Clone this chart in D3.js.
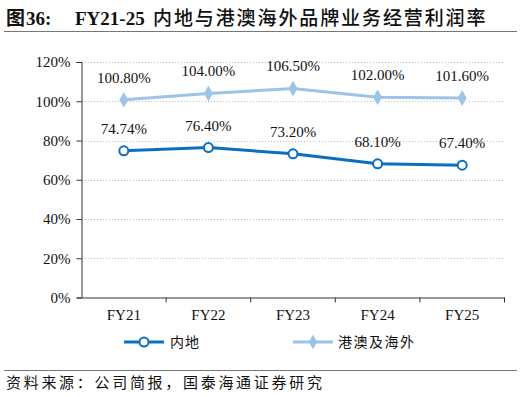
<!DOCTYPE html>
<html><head><meta charset="utf-8">
<script src="https://cdn.jsdelivr.net/npm/d3@7"></script>
<style>body{margin:0;background:#fff}svg{display:block}</style>
</head><body>
<script>
const categories = ["FY21","FY22","FY23","FY24","FY25"];
const mainland = [74.74, 76.40, 73.20, 68.10, 67.40];
const overseas = [100.80, 104.00, 106.50, 102.00, 101.60];
const mainlandLabels = ["74.74%","76.40%","73.20%","68.10%","67.40%"];
const overseasLabels = ["100.80%","104.00%","106.50%","102.00%","101.60%"];
const yTicks = [0,20,40,60,80,100,120];
const seriesNames = ["内地","港澳及海外"];

const W=521,H=397;
const svg=d3.select("body").append("svg").attr("width",W).attr("height",H);
const serif='"Times New Roman","Liberation Serif",serif';
const cjk='"Noto Sans CJK SC",sans-serif';

// title
const t=svg.append("text").attr("y",25).attr("fill","#111").attr("font-weight","bold");
t.append("tspan").attr("x",6).attr("font-family",cjk).attr("font-size",19).text("图");
t.append("tspan").attr("x",26).attr("font-family",serif).attr("font-size",19).text("36:");
t.append("tspan").attr("x",75).attr("font-family",serif).attr("font-size",19).text("FY21-25");
t.append("tspan").attr("x",153).attr("font-family",cjk).attr("font-size",19).attr("font-weight",500)
  .attr("letter-spacing",1.9).text("内地与港澳海外品牌业务经营利润率");
svg.append("line").attr("x1",4).attr("x2",517).attr("y1",31.5).attr("y2",31.5).attr("stroke","#777").attr("stroke-width",1.2);
svg.append("line").attr("x1",4).attr("x2",517).attr("y1",370.5).attr("y2",370.5).attr("stroke","#777").attr("stroke-width",1);
svg.append("text").attr("x",6).attr("y",388).attr("font-size",15).attr("letter-spacing",2.7).attr("fill","#111").attr("font-family",cjk)
  .text("资料来源：公司简报，国泰海通证券研究");

const x=d3.scaleBand().domain(categories).range([81.5,504.5]);
const y=d3.scaleLinear().domain([0,120]).range([297.5,62]);

// grid
svg.append("g").selectAll("line").data(yTicks.filter(d=>d>0)).join("line")
  .attr("x1",82).attr("x2",504.5).attr("y1",d=>Math.round(y(d))+0.5).attr("y2",d=>Math.round(y(d))+0.5)
  .attr("stroke","#bbb").attr("stroke-dasharray","1,2");

const ya=svg.append("g").attr("transform","translate(81.5,0)")
  .call(d3.axisLeft(y).tickValues(yTicks).tickFormat(d=>d+"%").tickSize(5).tickPadding(6));
ya.select(".domain").attr("stroke","#333");
ya.selectAll(".tick line").attr("stroke","#333");
ya.selectAll("text").attr("font-family",serif).attr("font-size",15).attr("fill","#111");

const xa=svg.append("g").attr("transform","translate(0,297.5)")
  .call(d3.axisBottom(x).tickSize(0).tickPadding(12));
xa.select(".domain").attr("stroke","#333");
xa.selectAll("text").attr("font-family",serif).attr("font-size",15).attr("fill","#111");
xa.append("g").selectAll("line").data(categories).join("line")
  .attr("x1",d=>x(d)+x.bandwidth()).attr("x2",d=>x(d)+x.bandwidth()).attr("y1",0).attr("y2",5).attr("stroke","#333");

const cx=d=>x(d)+x.bandwidth()/2;
const c1="#0A6FC0", c2="#9DC3E6";
const line=d3.line().x(d=>cx(d[0])).y(d=>y(d[1]));

svg.append("path").datum(categories.map((c,i)=>[c,overseas[i]])).attr("d",line)
  .attr("fill","none").attr("stroke",c2).attr("stroke-width",3);
svg.append("g").selectAll("path").data(categories).join("path")
  .attr("d",d3.symbol(d3.symbolDiamond,70)).attr("transform",(d,i)=>`translate(${cx(d)},${y(overseas[i])})`).attr("fill",c2);

svg.append("path").datum(categories.map((c,i)=>[c,mainland[i]])).attr("d",line)
  .attr("fill","none").attr("stroke",c1).attr("stroke-width",3);
svg.append("g").selectAll("circle").data(categories).join("circle")
  .attr("cx",d=>cx(d)).attr("cy",(d,i)=>y(mainland[i])).attr("r",4.5)
  .attr("fill","#fff").attr("stroke",c1).attr("stroke-width",2);

svg.append("g").selectAll("text").data(categories).join("text")
  .attr("x",d=>cx(d)).attr("y",(d,i)=>y(overseas[i])-17).attr("text-anchor","middle")
  .attr("font-family",serif).attr("font-size",15).attr("fill","#111").text((d,i)=>overseasLabels[i]);
svg.append("g").selectAll("text").data(categories).join("text")
  .attr("x",d=>cx(d)).attr("y",(d,i)=>y(mainland[i])-17).attr("text-anchor","middle")
  .attr("font-family",serif).attr("font-size",15).attr("fill","#111").text((d,i)=>mainlandLabels[i]);

// legend
const lg=svg.append("g");
lg.append("line").attr("x1",124).attr("x2",164).attr("y1",342).attr("y2",342).attr("stroke",c1).attr("stroke-width",3);
lg.append("circle").attr("cx",144).attr("cy",342).attr("r",4.5).attr("fill","#fff").attr("stroke",c1).attr("stroke-width",2);
lg.append("text").attr("x",170).attr("y",347).attr("font-family",cjk).attr("font-size",14).attr("letter-spacing",1).attr("fill","#111").text(seriesNames[0]);
lg.append("line").attr("x1",293).attr("x2",333).attr("y1",342).attr("y2",342).attr("stroke",c2).attr("stroke-width",3);
lg.append("path").attr("d",d3.symbol(d3.symbolDiamond,60)).attr("transform","translate(313,342)").attr("fill",c2);
lg.append("text").attr("x",338).attr("y",347).attr("font-family",cjk).attr("font-size",14).attr("letter-spacing",1.5).attr("fill","#111").text(seriesNames[1]);
</script>
</body></html>
